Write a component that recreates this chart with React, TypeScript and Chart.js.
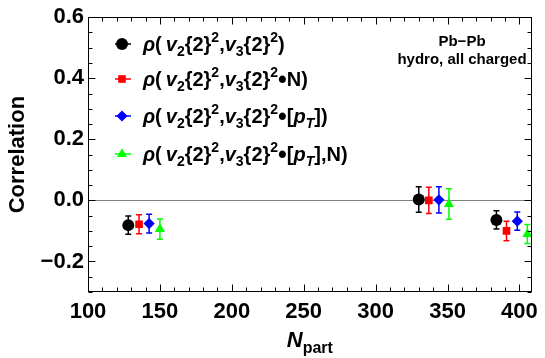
import { useEffect, useRef } from 'react';
import { Chart, registerables } from 'chart.js';

Chart.register(...registerables);

// ---- data ----
const xTicks = [100, 150, 200, 250, 300, 350, 400];
const yTicks = [-0.2, 0, 0.2, 0.4, 0.6];

const blackX = [128, 330, 384];
const blackY = [-0.081, 0.003, -0.064];
const blackErr = [0.03, 0.042, 0.03];

const redX = [135.5, 337, 391];
const redY = [-0.078, 0.0, -0.1];
const redErr = [0.031, 0.043, 0.032];

const blueX = [142.5, 344, 398.5];
const blueY = [-0.076, 0.002, -0.068];
const blueErr = [0.031, 0.043, 0.03];

const greenX = [150, 351, 405.5];
const greenY = [-0.094, -0.012, -0.11];
const greenErr = [0.033, 0.05, 0.031];

type Seg = { t: string; it?: boolean; s?: 'sub' | 'sup'; big?: boolean };
const rhoPrefix: Seg[] = [
  { t: 'ρ', it: true }, { t: '(\u2009' }, { t: 'v', it: true }, { t: '2', s: 'sub' }, { t: '{2}' }, { t: '2', s: 'sup' },
  { t: ',' }, { t: 'v', it: true }, { t: '3', s: 'sub' }, { t: '{2}' }, { t: '2', s: 'sup' },
];
const legendLabels: Seg[][] = [
  [...rhoPrefix, { t: ')' }],
  [...rhoPrefix, { t: '•', big: true }, { t: 'N)' }],
  [...rhoPrefix, { t: '•', big: true }, { t: '[' }, { t: 'p', it: true }, { t: 'T', it: true, s: 'sub' }, { t: '])' }],
  [...rhoPrefix, { t: '•', big: true }, { t: '[' }, { t: 'p', it: true }, { t: 'T', it: true, s: 'sub' }, { t: '],N)' }],
];
const annotLines = ['Pb−Pb', 'hydro, all charged'];

const colors = ['#000000', '#ff0000', '#0000ff', '#00ff00'];
const shapes = ['circle', 'rect', 'rectRot', 'triangle'];
const radii = [6, 5.4, 5.6, 5.8];

const FONT = '"Liberation Sans", Arial, sans-serif';

function drawRich(ctx: CanvasRenderingContext2D, segs: Seg[], x: number, baseline: number, size: number) {
  let cx = x;
  ctx.textAlign = 'left';
  ctx.textBaseline = 'alphabetic';
  for (const g of segs) {
    const fs = g.s ? size * 0.7 : g.big ? size * 1.25 : size;
    ctx.font = `${g.it ? 'italic ' : ''}bold ${fs}px ${FONT}`;
    const dy = g.s === 'sub' ? size * 0.28 : g.s === 'sup' ? -size * 0.45 : g.big ? size * 0.12 : 0;
    ctx.fillText(g.t, cx, baseline + dy);
    cx += ctx.measureText(g.t).width;
  }
  return cx - x;
}

function drawMarker(ctx: CanvasRenderingContext2D, shape: string, x: number, y: number, r: number) {
  ctx.beginPath();
  if (shape === 'circle') {
    ctx.arc(x, y, r, 0, Math.PI * 2);
  } else if (shape === 'rect') {
    const s = r * Math.SQRT1_2;
    ctx.rect(x - s, y - s, 2 * s, 2 * s);
  } else if (shape === 'rectRot') {
    ctx.moveTo(x - r, y); ctx.lineTo(x, y - r); ctx.lineTo(x + r, y); ctx.lineTo(x, y + r); ctx.closePath();
  } else {
    const h = r * Math.sqrt(3) / 2;
    ctx.moveTo(x, y - r); ctx.lineTo(x + h, y + r / 2); ctx.lineTo(x - h, y + r / 2); ctx.closePath();
  }
  ctx.fill();
}

const zeroLinePlugin = {
  id: 'zeroLine',
  beforeDatasetsDraw(chart: any) {
    const { ctx, chartArea: a, scales } = chart;
    const py = Math.round(scales.y.getPixelForValue(0)) + 0.5;
    ctx.save();
    ctx.strokeStyle = '#808080';
    ctx.lineWidth = 1;
    ctx.beginPath();
    ctx.moveTo(a.left, py);
    ctx.lineTo(a.right, py);
    ctx.stroke();
    ctx.restore();
  },
};

const errorBarPlugin = {
  id: 'errorBars',
  beforeDatasetsDraw(chart: any) {
    const { ctx, scales } = chart;
    ctx.save();
    chart.data.datasets.forEach((ds: any) => {
      ctx.strokeStyle = ds.borderColor;
      ctx.lineWidth = 1.5;
      ds.data.forEach((d: any, j: number) => {
        const e = ds.errors[j];
        const px = scales.x.getPixelForValue(d.x);
        const p1 = scales.y.getPixelForValue(d.y + e);
        const p2 = scales.y.getPixelForValue(d.y - e);
        ctx.beginPath();
        ctx.moveTo(px, p1); ctx.lineTo(px, p2);
        ctx.moveTo(px - 3, p1); ctx.lineTo(px + 3, p1);
        ctx.moveTo(px - 3, p2); ctx.lineTo(px + 3, p2);
        ctx.stroke();
      });
    });
    ctx.restore();
  },
};

const framePlugin = {
  id: 'frame',
  afterDraw(chart: any) {
    const { ctx, chartArea: a, scales } = chart;
    ctx.save();
    ctx.strokeStyle = '#000';
    ctx.lineWidth = 1;
    const L = Math.round(a.left) + 0.5, R = Math.round(a.right) - 0.5;
    const T = Math.round(a.top) + 0.5, B = Math.round(a.bottom) - 0.5;
    ctx.strokeRect(L, T, R - L, B - T);
    ctx.beginPath();
    for (let v = 100; v <= 408; v += 10) {
      const px = Math.round(scales.x.getPixelForValue(v)) + 0.5;
      const len = v % 50 === 0 ? 7 : 4;
      ctx.moveTo(px, B); ctx.lineTo(px, B - len);
      ctx.moveTo(px, T); ctx.lineTo(px, T + len);
    }
    for (let k = -6; k <= 12; k++) {
      const v = k * 0.05;
      const py = Math.round(scales.y.getPixelForValue(v)) + 0.5;
      const len = k % 4 === 0 ? 7 : 4;
      ctx.moveTo(L, py); ctx.lineTo(L + len, py);
      ctx.moveTo(R, py); ctx.lineTo(R - len, py);
    }
    ctx.stroke();

    // legend
    const rows = [44, 79, 116, 154];
    legendLabels.forEach((segs, i) => {
      const y = rows[i];
      ctx.strokeStyle = colors[i];
      ctx.fillStyle = colors[i];
      ctx.lineWidth = 1.5;
      ctx.beginPath();
      ctx.moveTo(115, y); ctx.lineTo(131, y);
      ctx.stroke();
      drawMarker(ctx, shapes[i], 122, y, radii[i]);
      ctx.fillStyle = '#000';
      drawRich(ctx, segs, 143, y + 6.5, 20);
    });

    // annotation
    ctx.fillStyle = '#000';
    ctx.textAlign = 'center';
    ctx.textBaseline = 'middle';
    ctx.font = `bold 15px ${FONT}`;
    ctx.fillText(annotLines[0], 462, 42);
    ctx.fillText(annotLines[1], 462, 60);

    // x title N_part
    const nFont = `italic bold 22px ${FONT}`;
    const sFont = `bold 16px ${FONT}`;
    ctx.font = nFont;
    const wN = ctx.measureText('N').width;
    ctx.font = sFont;
    const wS = ctx.measureText('part').width;
    const cx = (a.left + a.right) / 2;
    const x0 = cx - (wN + wS) / 2;
    ctx.textAlign = 'left';
    ctx.textBaseline = 'alphabetic';
    ctx.font = nFont;
    ctx.fillText('N', x0, 347);
    ctx.font = sFont;
    ctx.fillText('part', x0 + wN, 353);
    ctx.restore();
  },
};

function fmtY(v: number) {
  const s = Math.abs(v).toFixed(1);
  return v < -1e-9 ? '−' + s : s;
}

export default function App() {
  const ref = useRef<HTMLCanvasElement | null>(null);
  useEffect(() => {
    document.body.style.margin = '0';
    const xs = [blackX, redX, blueX, greenX];
    const ys = [blackY, redY, blueY, greenY];
    const es = [blackErr, redErr, blueErr, greenErr];
    const chart = new Chart(ref.current!, {
      type: 'scatter',
      data: {
        datasets: xs.map((xa, i) => ({
          label: 'series' + i,
          data: xa.map((v, j) => ({ x: v, y: ys[i][j] })),
          errors: es[i],
          borderColor: colors[i],
          backgroundColor: colors[i],
          pointStyle: shapes[i] as any,
          pointRadius: radii[i],
          pointBorderWidth: 0,
          showLine: false,
        })) as any,
      },
      options: {
        animation: false,
        responsive: true,
        maintainAspectRatio: false,
        layout: { padding: { top: 14, right: 8, left: 0, bottom: 0 } },
        plugins: { legend: { display: false }, tooltip: { enabled: false } },
        events: [],
        scales: {
          x: {
            type: 'linear',
            min: 100,
            max: 408.5,
            grid: { display: false, drawTicks: false, tickLength: 0 },
            border: { display: false },
            afterBuildTicks: (s: any) => { s.ticks = xTicks.map((value) => ({ value })); },
            afterFit: (s: any) => { s.height = 66; },
            ticks: {
              color: '#000',
              padding: 7,
              maxRotation: 0,
              autoSkip: false,
              font: { family: FONT, size: 22, weight: 'bold' },
              callback: (v: any) => String(v),
            },
          },
          y: {
            type: 'linear',
            min: -0.3,
            max: 0.6,
            grid: { display: false, drawTicks: false, tickLength: 0 },
            border: { display: false },
            afterBuildTicks: (s: any) => { s.ticks = yTicks.map((value) => ({ value })); },
            afterFit: (s: any) => { s.width = 88; },
            title: {
              display: true,
              text: 'Correlation',
              color: '#000',
              font: { family: FONT, size: 22, weight: 'bold' },
              padding: { top: 5, bottom: 0 },
            },
            ticks: {
              color: '#000',
              padding: 4,
              autoSkip: false,
              font: { family: FONT, size: 22, weight: 'bold' },
              callback: (v: any) => fmtY(Number(v)),
            },
          },
        },
      } as any,
      plugins: [zeroLinePlugin, errorBarPlugin, framePlugin],
    });
    return () => chart.destroy();
  }, []);
  return (
    <div style={{ position: 'relative', width: 545, height: 358 }}>
      <canvas ref={ref} />
    </div>
  );
}
